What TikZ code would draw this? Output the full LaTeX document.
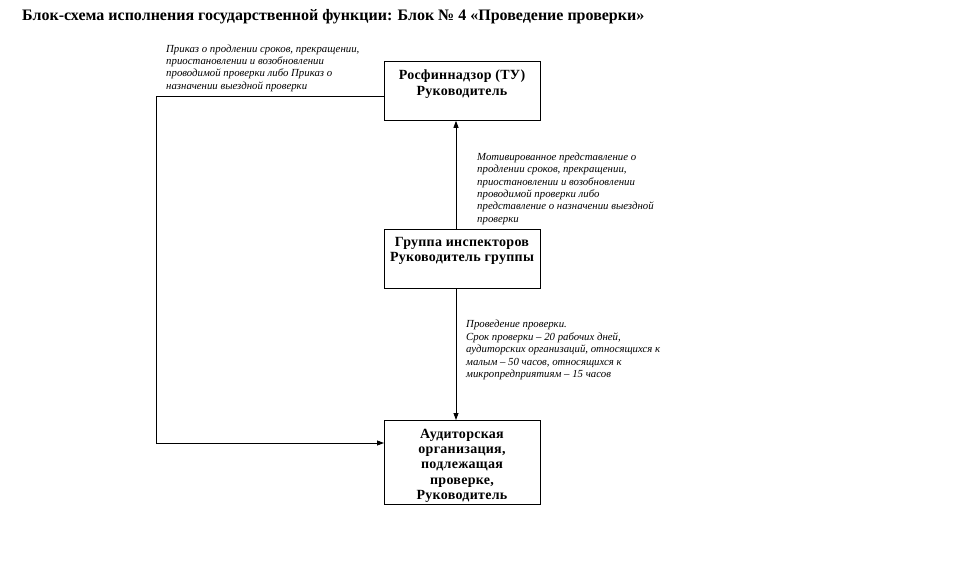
\documentclass[tikz,border=0pt]{standalone}
\usepackage{fontspec}
\setmainfont{Liberation Serif}
\usetikzlibrary{arrows.meta}
\begin{document}
\begin{tikzpicture}[x=1pt,y=-1pt,
  frame/.style={draw,line width=0.8pt,minimum width=156pt,inner sep=0pt,anchor=north west},
  blk/.style={inner sep=0pt,anchor=north,font=\bfseries\fontsize{14}{15.5}\selectfont\addfontfeatures{LetterSpace=2},align=center},
  note/.style={anchor=north west,inner sep=0pt,align=left,font=\itshape\fontsize{10.8}{12.3}\selectfont},
  conn/.style={line width=0.8pt,-{Triangle[length=7pt,width=5pt]}}]
\useasboundingbox (0,0) rectangle (961,577);
\node[anchor=west,inner sep=0pt,font=\bfseries\fontsize{16}{18}\selectfont] (title) at (22,17) {Блок-схема исполнения государственной функции: Блок № 4 «Проведение проверки»};
\node[frame,minimum height=59pt] (b1) at (384,61) {};
\node[blk] (t1) at (462,70) {Росфиннадзор (ТУ)\\Руководитель};
\node[frame,minimum height=59pt] (b2) at (384,229) {};
\node[blk] (t2) at (462,237) {Группа инспекторов\\Руководитель группы};
\node[frame,minimum height=84pt] (b3) at (384,420) {};
\node[blk,font=\bfseries\fontsize{14}{15.25}\selectfont\addfontfeatures{LetterSpace=2}] (t3) at (462,429) {Аудиторская\\организация,\\подлежащая\\проверке,\\Руководитель};
\coordinate (c1) at (156,96);
\coordinate (c2) at (156,443);
\draw[conn] (b2.north -| 456,0) -- (b1.south -| 456,0);
\draw[conn] (b2.south -| 456,0) -- (b3.north -| 456,0);
\draw[conn] (b1.west |- c1) -- (c1) -- (c2) -- (b3.west |- c2);
\node[note,font=\itshape\fontsize{10.8}{12.4}\selectfont] (n1) at (166,44.5) {Приказ о продлении сроков, прекращении,\\приостановлении и возобновлении\\проводимой проверки либо Приказ о\\назначении выездной проверки};
\node[note] (n2) at (477,153) {Мотивированное представление о\\продлении сроков, прекращении,\\приостановлении и возобновлении\\проводимой проверки либо\\представление о назначении выездной\\проверки};
\node[note,font=\itshape\fontsize{10.8}{12.5}\selectfont] (n3) at (466,320) {Проведение проверки.\\Срок проверки – 20 рабочих дней,\\аудиторских организаций, относящихся к\\малым – 50 часов, относящихся к\\микропредприятиям – 15 часов};
\end{tikzpicture}
\end{document}
